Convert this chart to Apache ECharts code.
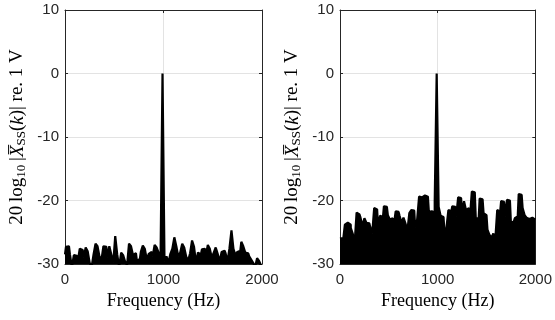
<!DOCTYPE html>
<html><head><meta charset="utf-8">
<script src="https://cdn.jsdelivr.net/npm/echarts@6/dist/echarts.min.js"></script>
<style>html,body{margin:0;padding:0;background:#fff}#c{width:555px;height:320px}</style>
</head><body><div id="c"></div>
<script>
const freqHz = [0,20,40,60,80,100,120,140,160,180,200,220,240,260,280,300,320,340,360,380,400,420,440,460,480,500,520,540,560,580,600,620,640,660,680,700,720,740,760,780,800,820,840,860,880,900,920,940,960,980,1000,1020,1040,1060,1080,1100,1120,1140,1160,1180,1200,1220,1240,1260,1280,1300,1320,1340,1360,1380,1400,1420,1440,1460,1480,1500,1520,1540,1560,1580,1600,1620,1640,1660,1680,1700,1720,1740,1760,1780,1800,1820,1840,1860,1880,1900,1920,1940,1960,1980,2000];
const leftDb = [-28.5,-27.3,-27.2,-28.5,-30.5,-28.6,-28.7,-29.5,-27.6,-27.8,
 -29,-27.4,-28,-29.8,-30.5,-28.5,-26.8,-27.2,-28.8,-29.4,
 -27.2,-27.3,-29,-27.2,-28.5,-29.8,-25.6,-28.5,-30.5,-28.2,
 -28.6,-29.6,-30.2,-26.8,-27.2,-28.6,-28.3,-29.5,-29.2,-28.1,
 -27.1,-27.6,-29.3,-28.4,-28.1,-28.8,-27,-27.4,-28.2,-29.4,
 0,
 -29.6,-28.8,-29.8,-28.4,-27.6,-25.8,-27.2,-28.8,-28.2,-26.8,
 -27.4,-28.8,-29.5,-28.3,-26.3,-27.3,-29.8,-28.2,-28.5,-27.7,
 -27.6,-28.6,-27,-27.6,-29,-28.2,-27.4,-28.4,-29.6,-28.1,
 -27.9,-28.3,-29.6,-27.5,-24.7,-27.6,-28.6,-28.1,-27.9,-26.5,
 -27.2,-28.2,-28.3,-28.8,-29.3,-29.8,-30.5,-29.1,-29.5,-30.2];
const rightDb = [-26,-25.9,-26.5,-23.8,-23.5,-23.8,-24.3,-25.2,-26.7,-21.9,
 -22.2,-22.7,-24,-22.8,-23.5,-23.6,-24.2,-25.2,-21.2,-21.4,
 -24.3,-22.4,-22.6,-20.9,-21,-22.3,-23,-22.8,-24,-21.7,
 -21.8,-22.4,-23.5,-22.7,-23.6,-24.8,-22,-21.5,-21.6,-24.3,
 -23,-19.4,-19.5,-19.2,-19.3,-19.4,-21.8,-21.7,-21.9,-20.1,
 0,
 -21,-22.4,-22.6,-25,-24.3,-21.5,-21.7,-20.9,-21,-22.5,
 -19.5,-19.6,-22,-20.1,-21.5,-21.2,-22.8,-18.6,-18.7,-22.7,
 -22.9,-19.7,-19.8,-22,-22.3,-24.6,-25.4,-25.9,-25.2,-26.2,
 -21.5,-21.8,-20.1,-20.2,-22.5,-19.9,-20,-23.5,-23.3,-22.8,
 -22.5,-19,-19.1,-21.2,-22.3,-22.7,-22.9,-22.7,-23,-23];
const xTicks = [0, 1000, 2000];
const yTicks = [-30, -20, -10, 0, 10];
const xName = 'Frequency (Hz)';
const yNameRich = '{n|20\u2009log}{s|10}{n|\u2009|}{i|X\u0305}{s|SS}{n|(}{i|k}{n|)| re. 1 V}';

const chart = echarts.init(document.getElementById('c'));
const AX = '#262626';
const grids = [{left:65, top:10, width:197, height:254}, {left:340, top:10, width:197, height:254}];
const series = [leftDb, rightDb];
const xAxes = [], yAxes = [], ser = [];
const serifRich = {
  n:{fontFamily:'Liberation Serif', fontSize:19, color:'#000', lineHeight:21},
  i:{fontFamily:'Liberation Serif', fontStyle:'italic', fontSize:19, color:'#000', lineHeight:21},
  s:{fontFamily:'Liberation Serif', fontSize:13, color:'#000', lineHeight:21, padding:[8,0,0,0]}
};
grids.forEach((g, k) => {
  const base = {gridIndex:k, type:'value', min:xTicks[0], max:xTicks[xTicks.length-1], interval:xTicks[1]-xTicks[0]};
  xAxes.push(Object.assign({}, base, {
    position:'bottom',
    axisLine:{show:true, onZero:false, lineStyle:{color:AX, width:1}},
    axisTick:{show:true, inside:true, length:3, lineStyle:{color:AX}},
    axisLabel:{color:AX, fontFamily:'Liberation Sans', fontSize:15, margin:8, formatter: v => String(v)},
    splitLine:{show:true, lineStyle:{color:'#e3e3e3', width:1}},
    name:xName, nameLocation:'middle', nameGap:27,
    nameTextStyle:{fontFamily:'Liberation Serif', fontSize:18, color:'#000'}
  }));
  xAxes.push(Object.assign({}, base, {
    position:'top',
    axisLine:{show:true, onZero:false, lineStyle:{color:AX, width:1}},
    axisTick:{show:true, inside:true, length:3, lineStyle:{color:AX}},
    axisLabel:{show:false}, splitLine:{show:false}
  }));
  const ybase = {gridIndex:k, type:'value', min:yTicks[0], max:yTicks[yTicks.length-1], interval:yTicks[1]-yTicks[0]};
  yAxes.push(Object.assign({}, ybase, {
    position:'left',
    axisLine:{show:true, onZero:false, lineStyle:{color:AX, width:1}},
    axisTick:{show:true, inside:true, length:3, lineStyle:{color:AX}},
    axisLabel:{color:AX, fontFamily:'Liberation Sans', fontSize:15, margin:6, formatter: v => String(v)},
    splitLine:{show:true, lineStyle:{color:'#e3e3e3', width:1}},
    name:yNameRich, nameLocation:'middle', nameGap:37, nameRotate:90,
    nameTextStyle:{rich:serifRich}
  }));
  yAxes.push(Object.assign({}, ybase, {
    position:'right',
    axisLine:{show:true, onZero:false, lineStyle:{color:AX, width:1}},
    axisTick:{show:true, inside:true, length:3, lineStyle:{color:AX}},
    axisLabel:{show:false}, splitLine:{show:false}
  }));
  ser.push({
    type:'line', xAxisIndex:2*k, yAxisIndex:2*k,
    data: freqHz.map((f, j) => [f, series[k][j]]),
    step:'middle',
    showSymbol:false, symbol:'none', clip:true, z:1,
    lineStyle:{color:'#000', width:2.2},
    areaStyle:{color:'#000', opacity:1, origin:'start'},
    animation:false
  });
});
chart.setOption({
  animation:false,
  grid: grids,
  xAxis: xAxes,
  yAxis: yAxes,
  series: ser
});
</script></body></html>
